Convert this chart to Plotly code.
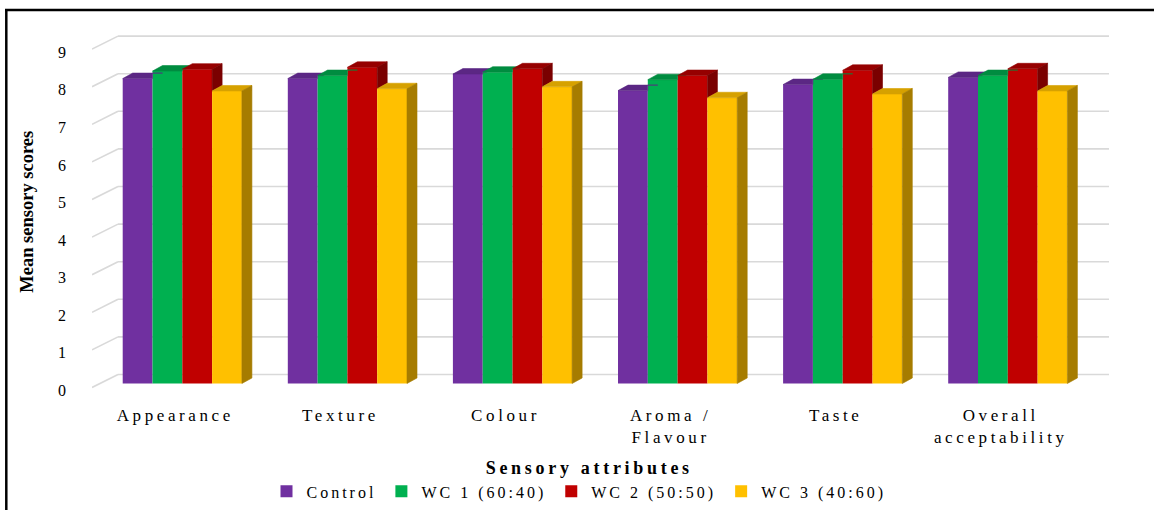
import plotly.graph_objects as go

# ---- data -------------------------------------------------------------
categories = ["Appearance", "Texture", "Colour", "Aroma /<br>Flavour", "Taste",
              "Overall<br>acceptability"]
series_names = ["Control", "WC 1 (60:40)", "WC 2 (50:50)", "WC 3 (40:60)"]
control = [8.11, 8.11, 8.23, 7.79, 7.95, 8.14]
wc1 = [8.31, 8.19, 8.28, 8.08, 8.09, 8.19]
wc2 = [8.36, 8.41, 8.37, 8.19, 8.33, 8.37]
wc3 = [7.78, 7.84, 7.89, 7.60, 7.70, 7.78]
y_ticks = [0, 1, 2, 3, 4, 5, 6, 7, 8, 9]

series_values = [control, wc1, wc2, wc3]

# ---- styling ----------------------------------------------------------
front_col = ["#7030A0", "#00B050", "#C00000", "#FFC000"]
top_col = ["#5B2784", "#008C40", "#960000", "#D6A100"]
side_col = ["#4A1F6B", "#007535", "#7A0000", "#A67C00"]
grid_col = "#D9D9D9"
serif = "Liberation Serif"

W, H = 1154, 510
ML, MR, MT, MB = 92, 44, 20, 118.5
X_RANGE = [-0.547, 5.619]
Y_RANGE = [-0.2, 9.668]
plot_w = W - ML - MR
plot_h = H - MT - MB
px_x = plot_w / (X_RANGE[1] - X_RANGE[0])   # pixels per category unit
px_y = plot_h / (Y_RANGE[1] - Y_RANGE[0])   # pixels per score unit

BARGAP = 0.278
group_w = 1 - BARGAP
bar_w = group_w / len(series_values)

# depth of the 3-D bars and of the floor/back wall, in axis units
DX = 10 / px_x
DY = 5.5 / px_y
WALL_DY = 9 / px_y
FRONT_DY = -4 / px_y
WALL_X0 = (118 - ML) / px_x + X_RANGE[0]
WALL_X1 = (1109 - ML) / px_x + X_RANGE[0]


def paper_x(px):
    return (px - ML) / plot_w


def paper_y(py):
    return (H - MB - py) / plot_h


fig = go.Figure()

x_idx = list(range(len(categories)))

# front faces of the bars
for j, (name, vals) in enumerate(zip(series_names, series_values)):
    fig.add_trace(go.Bar(
        x=x_idx, y=vals, name=name,
        marker=dict(color=front_col[j], line=dict(width=0)),
        hoverinfo="skip",
    ))


def face(xs, ys, color):
    fig.add_trace(go.Scatter(
        x=xs + [xs[0]], y=ys + [ys[0]], mode="lines", fill="toself",
        fillcolor=color, line=dict(color=color, width=0.6),
        hoverinfo="skip", showlegend=False,
    ))


# top and right-hand faces, hidden parts removed where the next bar stands in front
for i in x_idx:
    for j, vals in enumerate(series_values):
        v = vals[i]
        vn = series_values[j + 1][i] if j + 1 < len(series_values) else 0.0
        xl = i - group_w / 2 + j * bar_w
        xr = xl + bar_w
        c = min(max((vn - v) / DY, 0.0), 1.0)
        face([xl, xl + DX, xr + DX, xr + DX * c, xr, xr],
             [v, v + DY, v + DY, v + DY * c, v + DY * c, v], top_col[j])
        if v > vn:
            face([xr, xr + DX, xr + DX, xr],
                 [vn, vn + DY, v + DY, v], side_col[j])

# back-wall gridlines with their diagonal run to the front edge of the floor
shapes = []
for t in y_ticks:
    shapes.append(dict(type="line", xref="x", yref="y", layer="below",
                       x0=X_RANGE[0], y0=t + FRONT_DY, x1=WALL_X0, y1=t + WALL_DY,
                       line=dict(color=grid_col, width=1.6)))
    shapes.append(dict(type="line", xref="x", yref="y", layer="below",
                       x0=WALL_X0, y0=t + WALL_DY, x1=WALL_X1, y1=t + WALL_DY,
                       line=dict(color=grid_col, width=1.6)))

# outer frame (left and top edges)
shapes.append(dict(type="line", xref="paper", yref="paper", layer="above",
                   x0=paper_x(6.3), y0=paper_y(9), x1=paper_x(6.3), y1=paper_y(520),
                   line=dict(color="#000000", width=2.5)))
shapes.append(dict(type="line", xref="paper", yref="paper", layer="above",
                   x0=paper_x(5), y0=paper_y(10), x1=paper_x(1160), y1=paper_y(10),
                   line=dict(color="#000000", width=2.5)))

fig.update_layout(
    width=W, height=H,
    margin=dict(l=ML, r=MR, t=MT, b=MB, pad=0, autoexpand=False),
    paper_bgcolor="white", plot_bgcolor="white",
    barmode="group", bargap=BARGAP, bargroupgap=0,
    font=dict(family=serif, color="#000000"),
    shapes=shapes,
    xaxis=dict(
        range=X_RANGE, tickmode="array", tickvals=x_idx, ticktext=categories,
        showgrid=False, zeroline=False, showline=False, ticks="", automargin=False,
        tickangle=0, tickfont=dict(family=serif, size=17, color="#000000"),
        ticklabelstandoff=12, ticklabelshift=-7, fixedrange=True,
    ),
    yaxis=dict(
        range=Y_RANGE, tickmode="array", tickvals=y_ticks,
        showgrid=False, zeroline=False, showline=False, ticks="", automargin=False,
        tickfont=dict(family=serif, size=16, color="#000000"),
        ticklabelstandoff=25, ticklabelshift=7, fixedrange=True,
    ),
    legend=dict(
        orientation="h", xanchor="center", yanchor="middle",
        x=paper_x(579), y=paper_y(492),
        font=dict(family=serif, size=16, color="#000000"),
        itemwidth=30, traceorder="normal", bgcolor="rgba(0,0,0,0)",
    ),
    annotations=[
        dict(text="Sensory attributes", xref="paper", yref="paper",
             x=paper_x(589), y=paper_y(469), xanchor="center", yanchor="middle",
             showarrow=False,
             font=dict(family=serif, size=18, weight="bold", color="#000000")),
        dict(text="Mean sensory scores", xref="paper", yref="paper",
             x=paper_x(27), y=paper_y(212), xanchor="center", yanchor="middle",
             textangle=-90, showarrow=False,
             font=dict(family=serif, size=18.5, weight="bold", color="#000000")),
    ],
    showlegend=True,
)

# widen the letter spacing of the serif labels, then redraw so the legend re-measures
spacing_js = """
var st = document.createElement('style');
st.textContent = '.xtick text{letter-spacing:3.6px} .legendtext{letter-spacing:3px}'
  + ' .annotation[data-index="0"] .annotation-text{letter-spacing:3.7px}';
document.head.appendChild(st);
var gd = document.getElementById('{plot_id}');
Plotly.relayout(gd, {'legend.font.size': 16.01});
"""

fig.write_html("out.html", config={"displayModeBar": False}, post_script=spacing_js)
